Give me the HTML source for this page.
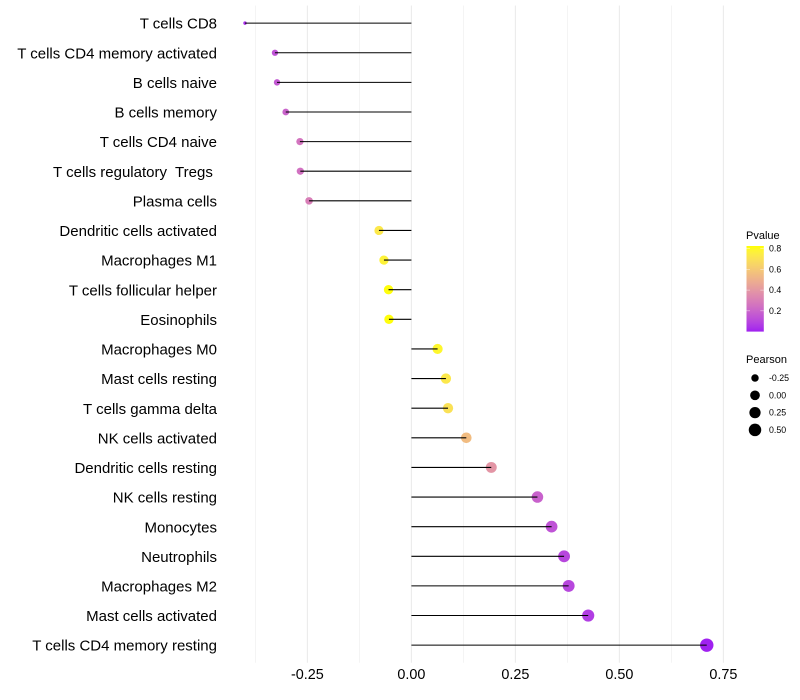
<!DOCTYPE html>
<html lang="en">
<head>
<meta charset="utf-8">
<title>Lollipop chart of immune cell correlation</title>
<style>
html,body{margin:0;padding:0;background:#fff;width:800px;height:700px;overflow:hidden}
svg{display:block}
text{font-family:"Liberation Sans",sans-serif;white-space:pre}
</style>
</head>
<body>
<svg id="chart" xmlns="http://www.w3.org/2000/svg" width="800" height="700" viewBox="0 0 800 700"></svg>
<script>
const categories = ["T cells CD8","T cells CD4 memory activated","B cells naive","B cells memory","T cells CD4 naive","T cells regulatory  Tregs ","Plasma cells","Dendritic cells activated","Macrophages M1","T cells follicular helper","Eosinophils","Macrophages M0","Mast cells resting","T cells gamma delta","NK cells activated","Dendritic cells resting","NK cells resting","Monocytes","Neutrophils","Macrophages M2","Mast cells activated","T cells CD4 memory resting"];
const pearsonValues = [-0.400,-0.328,-0.323,-0.302,-0.268,-0.267,-0.246,-0.078,-0.066,-0.055,-0.054,0.063,0.083,0.088,0.132,0.192,0.303,0.337,0.367,0.378,0.425,0.710];
const pValues = [0.03,0.14,0.16,0.20,0.26,0.25,0.30,0.73,0.77,0.82,0.82,0.79,0.73,0.70,0.55,0.39,0.19,0.14,0.10,0.10,0.07,0.001];
const xTicks = [-0.25,0,0.25,0.5,0.75];
const xTickLabels = ["-0.25","0.00","0.25","0.50","0.75"];
const xMinorBreaks = [-0.375,-0.125,0.125,0.375,0.625];
const colorTicks = [0.2,0.4,0.6,0.8];
const colorTickLabels = ["0.2","0.4","0.6","0.8"];
const sizeBreaks = [-0.25,0,0.25,0.5];
const sizeBreakLabels = ["-0.25","0.00","0.25","0.50"];

const svg = document.getElementById('chart');
const NS = 'http://www.w3.org/2000/svg';
const panel = {left:232, right:746, top:5.5, bottom:662.8};
const pMax = 0.825;

function xScale(v){ return 411.4 + v * 416; }
function yScale(i){ return 23.12 + i * 29.62; }
function colorY(p){ return 331.6 - (p / pMax) * 85.6; }
function radius(v){
  const lo = Math.min(...pearsonValues), hi = Math.max(...pearsonValues);
  const t = Math.max(0, (v - lo) / (hi - lo));
  return 1.7 + 5 * Math.pow(t, 0.45);
}
function toLab(c){
  const f = u => { u /= 255; return u > 0.04045 ? Math.pow((u + 0.055) / 1.055, 2.4) : u / 12.92; };
  const r = f(c[0]), g = f(c[1]), b = f(c[2]);
  const X = (0.4124*r + 0.3576*g + 0.1805*b) / 0.95047;
  const Y = 0.2126*r + 0.7152*g + 0.0722*b;
  const Z = (0.0193*r + 0.1192*g + 0.9505*b) / 1.08883;
  const h = t => t > 0.008856 ? Math.cbrt(t) : 7.787 * t + 16 / 116;
  return [116*h(Y) - 16, 500*(h(X) - h(Y)), 200*(h(Y) - h(Z))];
}
function fromLab(l){
  const fy = (l[0] + 16) / 116, fx = fy + l[1] / 500, fz = fy - l[2] / 200;
  const h = t => t*t*t > 0.008856 ? t*t*t : (t - 16/116) / 7.787;
  const X = h(fx) * 0.95047, Y = h(fy), Z = h(fz) * 1.08883;
  const g = u => { u = u > 0.0031308 ? 1.055 * Math.pow(u, 1/2.4) - 0.055 : 12.92 * u; return Math.round(Math.min(1, Math.max(0, u)) * 255); };
  return 'rgb(' + g(3.2406*X - 1.5372*Y - 0.4986*Z) + ',' + g(-0.9689*X + 1.8758*Y + 0.0415*Z) + ',' + g(0.0557*X - 0.2040*Y + 1.0570*Z) + ')';
}
const labLow = toLab([160,32,240]);
const labHigh = toLab([255,255,0]);
function colorScale(p){
  const t = Math.min(1, Math.max(0, p / pMax));
  return fromLab(labLow.map((a, k) => a + (labHigh[k] - a) * t));
}
function make(tag, attrs, parent, txt){
  const el = document.createElementNS(NS, tag);
  for (const k in attrs) el.setAttribute(k, attrs[k]);
  if (txt !== undefined) el.textContent = txt;
  (parent || svg).appendChild(el);
  return el;
}

/* gridlines */
xMinorBreaks.forEach(v => {
  const el = make('line', {x1:xScale(v), x2:xScale(v), y1:panel.top, y2:panel.bottom, stroke:'#ebebeb', 'stroke-width':0.53});
  
  
});
xTicks.forEach(v => {
  const el = make('line', {x1:xScale(v), x2:xScale(v), y1:panel.top, y2:panel.bottom, stroke:'#ebebeb', 'stroke-width':1.07});
  
  
});

/* points, then stems on top */
categories.forEach((c, i) => {
  const dot = make('circle', {cx:xScale(pearsonValues[i]), cy:yScale(i), r:radius(pearsonValues[i]), fill:colorScale(pValues[i])});
  
  
});
categories.forEach((c, i) => {
  const stem = make('line', {x1:xScale(0), x2:xScale(pearsonValues[i]), y1:yScale(i), y2:yScale(i), stroke:'#000', 'stroke-width':1.07});
  
  
});

/* category labels */
categories.forEach((c, i) => {
  const lab = make('text', {x:217, y:yScale(i) + 5.6, 'text-anchor':'end', 'font-size':15, fill:'#000'}, svg, c);
  
  
});

/* x tick labels */
xTicks.forEach((v, i) => {
  const lab = make('text', {x:xScale(v), y:679, 'text-anchor':'middle', 'font-size':14.4, fill:'#000'}, svg, xTickLabels[i]);
  
  
});

/* colour legend */
const pTitle = make('text', {x:746, y:239, 'font-size':11, fill:'#000'}, svg, 'Pvalue');



const defs = make('defs', {});
const grad = make('linearGradient', {id:'pgrad', x1:0, y1:1, x2:0, y2:0}, defs);
for (let s = 0; s <= 20; s++) {
  make('stop', {offset:(s / 20), 'stop-color':colorScale(pMax * s / 20)}, grad);
}
const bar = make('rect', {x:746.5, y:246, width:17.3, height:85.6, fill:'url(#pgrad)'});



colorTicks.forEach((p, i) => {
  const y = colorY(p);
  const t1 = make('line', {x1:746.5, x2:750, y1:y, y2:y, stroke:'#fff', 'stroke-width':0.5, 'stroke-opacity':0.8});
  
  
  const t2 = make('line', {x1:760.3, x2:763.8, y1:y, y2:y, stroke:'#fff', 'stroke-width':0.5, 'stroke-opacity':0.8});
  
  
  const lab = make('text', {x:769, y:y + 3.1, 'font-size':8.8, fill:'#000'}, svg, colorTickLabels[i]);
  
  
});

/* size legend */
const sTitle = make('text', {x:746, y:363, 'font-size':11, fill:'#000'}, svg, 'Pearson');



sizeBreaks.forEach((v, i) => {
  const y = 378 + i * 17.3;
  const dot = make('circle', {cx:755, cy:y, r:radius(v), fill:'#000'});
  
  
  const lab = make('text', {x:769, y:y + 3.1, 'font-size':8.8, fill:'#000'}, svg, sizeBreakLabels[i]);
  
  
});
</script>
</body>
</html>
